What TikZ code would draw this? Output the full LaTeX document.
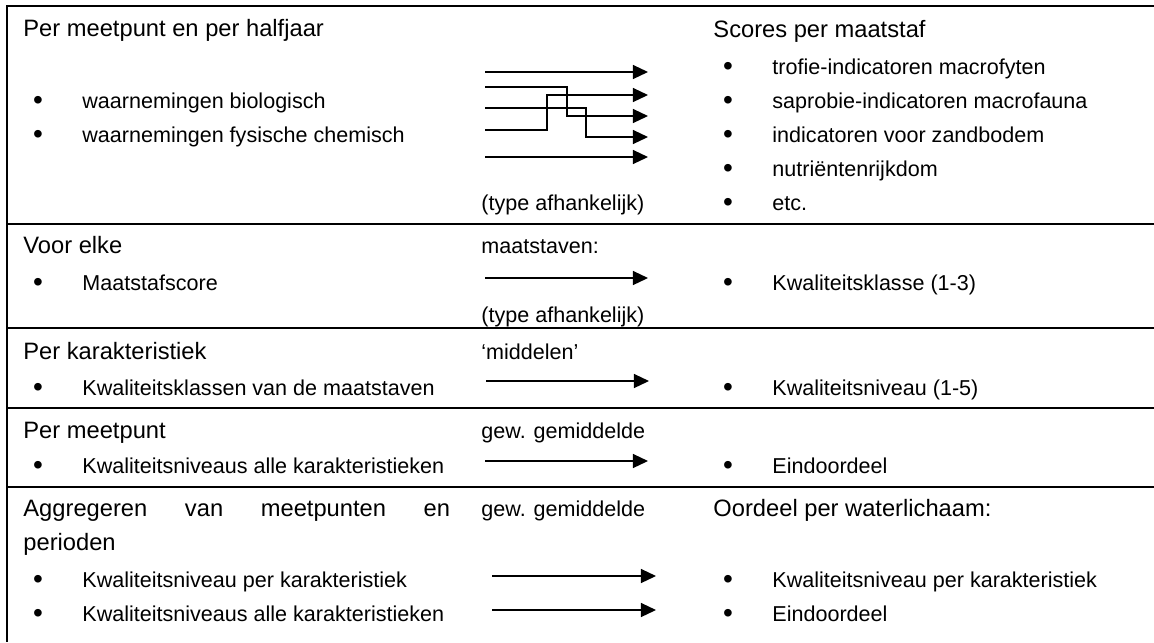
\documentclass[tikz,border=0pt]{standalone}
\usepackage{fontspec}
\setmainfont{Liberation Sans}
\usetikzlibrary{arrows.meta,positioning}

\begin{document}
\begin{tikzpicture}[x=0.464pt, y=-0.464pt,
     head/.style = {anchor=base west, inner sep=0pt, font=\fontsize{11}{13}\selectfont},
     item/.style = {anchor=base west, inner sep=0pt, font=\fontsize{10}{12}\selectfont},
     dot/.style = {anchor=base, inner sep=0pt, yshift=-0.9pt, font=\fontsize{13}{15}\selectfont},
     frameline/.style = {draw, line width=1.1pt},
     arrow/.style = {draw, line width=0.65pt, -{Triangle[length=7pt,width=6.5pt]}}
    ]
    \useasboundingbox (0,0) rectangle (1154,642);

    % table lines
    \draw[frameline] (1154,6) -- (7,6) -- (7,642);
    \draw[frameline] (7,224) -- (1154,224);
    \draw[frameline] (7,328) -- (1154,328);
    \draw[frameline] (7,408) -- (1154,408);
    \draw[frameline] (7,487) -- (1154,487);

    % per meetpunt en per halfjaar
    \node [head] (halfj) at (23,36) {Per meetpunt en per halfjaar};
    \node [dot] (dbio) at (38,108) {•};
    \node [item] (bio) at (82,108) {waarnemingen biologisch};
    \node [dot] (dfys) at (38,142) {•};
    \node [item] (fys) at (82,142) {waarnemingen fysische chemisch};
    \node [item] (type1) at (481,210) {(type afhankelijk)};
    \node [head] (scores) at (713,37) {Scores per maatstaf};
    \node [dot] (dtrof) at (728,74) {•};
    \node [item] (trof) at (772,74) {trofie-indicatoren macrofyten};
    \node [dot] (dsapr) at (728,108) {•};
    \node [item] (sapr) at (772,108) {saprobie-indicatoren macrofauna};
    \node [dot] (dzand) at (728,142) {•};
    \node [item] (zand) at (772,142) {indicatoren voor zandbodem};
    \node [dot] (dnutr) at (728,176) {•};
    \node [item] (nutr) at (772,176) {nutriëntenrijkdom};
    \node [dot] (detc) at (728,210) {•};
    \node [item] (etc) at (772,210) {etc.};

    \coordinate (s1) at (485,72);  \coordinate (t1) at (648,72);
    \coordinate (s2) at (485,87);  \coordinate (t2) at (648,95);
    \coordinate (s3) at (485,108); \coordinate (t3) at (648,116);
    \coordinate (s4) at (485,130); \coordinate (t4) at (648,137);
    \coordinate (s5) at (485,157); \coordinate (t5) at (648,157);
    \draw[arrow] (s1) -- (t1);
    \draw[arrow] (s2) -- ++(82,0) |- (t3);
    \draw[arrow] (s3) -- ++(101,0) |- (t4);
    \draw[arrow] (s4) -- ++(62,0) |- (t2);
    \draw[arrow] (s5) -- (t5);

    % voor elke maatstaf
    \node [head] (elke) at (23,253) {Voor elke};
    \node [item] (mstv) at (481,253) {maatstaven:};
    \node [dot] (dscore) at (38,290) {•};
    \node [item] (score) at (82,290) {Maatstafscore};
    \node [item] (type2) at (481,322) {(type afhankelijk)};
    \node [dot] (dklas) at (728,290) {•};
    \node [item] (klas) at (772,290) {Kwaliteitsklasse (1-3)};
    \coordinate (s6) at (485,278); \coordinate (t6) at (648,278);
    \draw[arrow] (s6) -- (t6);

    % per karakteristiek
    \node [head] (kar) at (23,359) {Per karakteristiek};
    \node [item] (midd) at (481,359) {‘middelen’};
    \node [dot] (dklas2) at (38,395) {•};
    \node [item] (klas2) at (82,395) {Kwaliteitsklassen van de maatstaven};
    \node [dot] (dniv) at (728,395) {•};
    \node [item] (niv) at (772,395) {Kwaliteitsniveau (1-5)};
    \coordinate (s7) at (486,381); \coordinate (t7) at (649,381);
    \draw[arrow] (s7) -- (t7);

    % per meetpunt
    \node [head] (meet) at (23,438) {Per meetpunt};
    \node [item] (gew1) at (481,438) {gew. gemiddelde};
    \node [dot] (dalle) at (38,473) {•};
    \node [item] (alle) at (82,473) {Kwaliteitsniveaus alle karakteristieken};
    \node [dot] (deind) at (728,473) {•};
    \node [item] (eind) at (772,473) {Eindoordeel};
    \coordinate (s8) at (485,461); \coordinate (t8) at (648,461);
    \draw[arrow] (s8) -- (t8);

    % aggregeren
    \node [head, text width=198pt, align=justify, font=\fontsize{11}{16.2}\selectfont] (aggr) at (23,516)
        {Aggregeren van meetpunten en\linebreak perioden};
    \node [item] (gew2) at (481,516) {gew. gemiddelde};
    \node [head] (oord) at (713,516) {Oordeel per waterlichaam:};
    \node [dot] (dpkar) at (38,587) {•};
    \node [item] (pkar) at (82,587) {Kwaliteitsniveau per karakteristiek};
    \node [dot] (dakar) at (38,621) {•};
    \node [item] (akar) at (82,621) {Kwaliteitsniveaus alle karakteristieken};
    \node [dot] (dwkar) at (728,587) {•};
    \node [item] (wkar) at (772,587) {Kwaliteitsniveau per karakteristiek};
    \node [dot] (dweind) at (728,621) {•};
    \node [item] (weind) at (772,621) {Eindoordeel};
    \coordinate (s9) at (492,576);  \coordinate (t9) at (656,576);
    \coordinate (s10) at (492,610); \coordinate (t10) at (656,610);
    \draw[arrow] (s9) -- (t9);
    \draw[arrow] (s10) -- (t10);
\end{tikzpicture}
\end{document}
